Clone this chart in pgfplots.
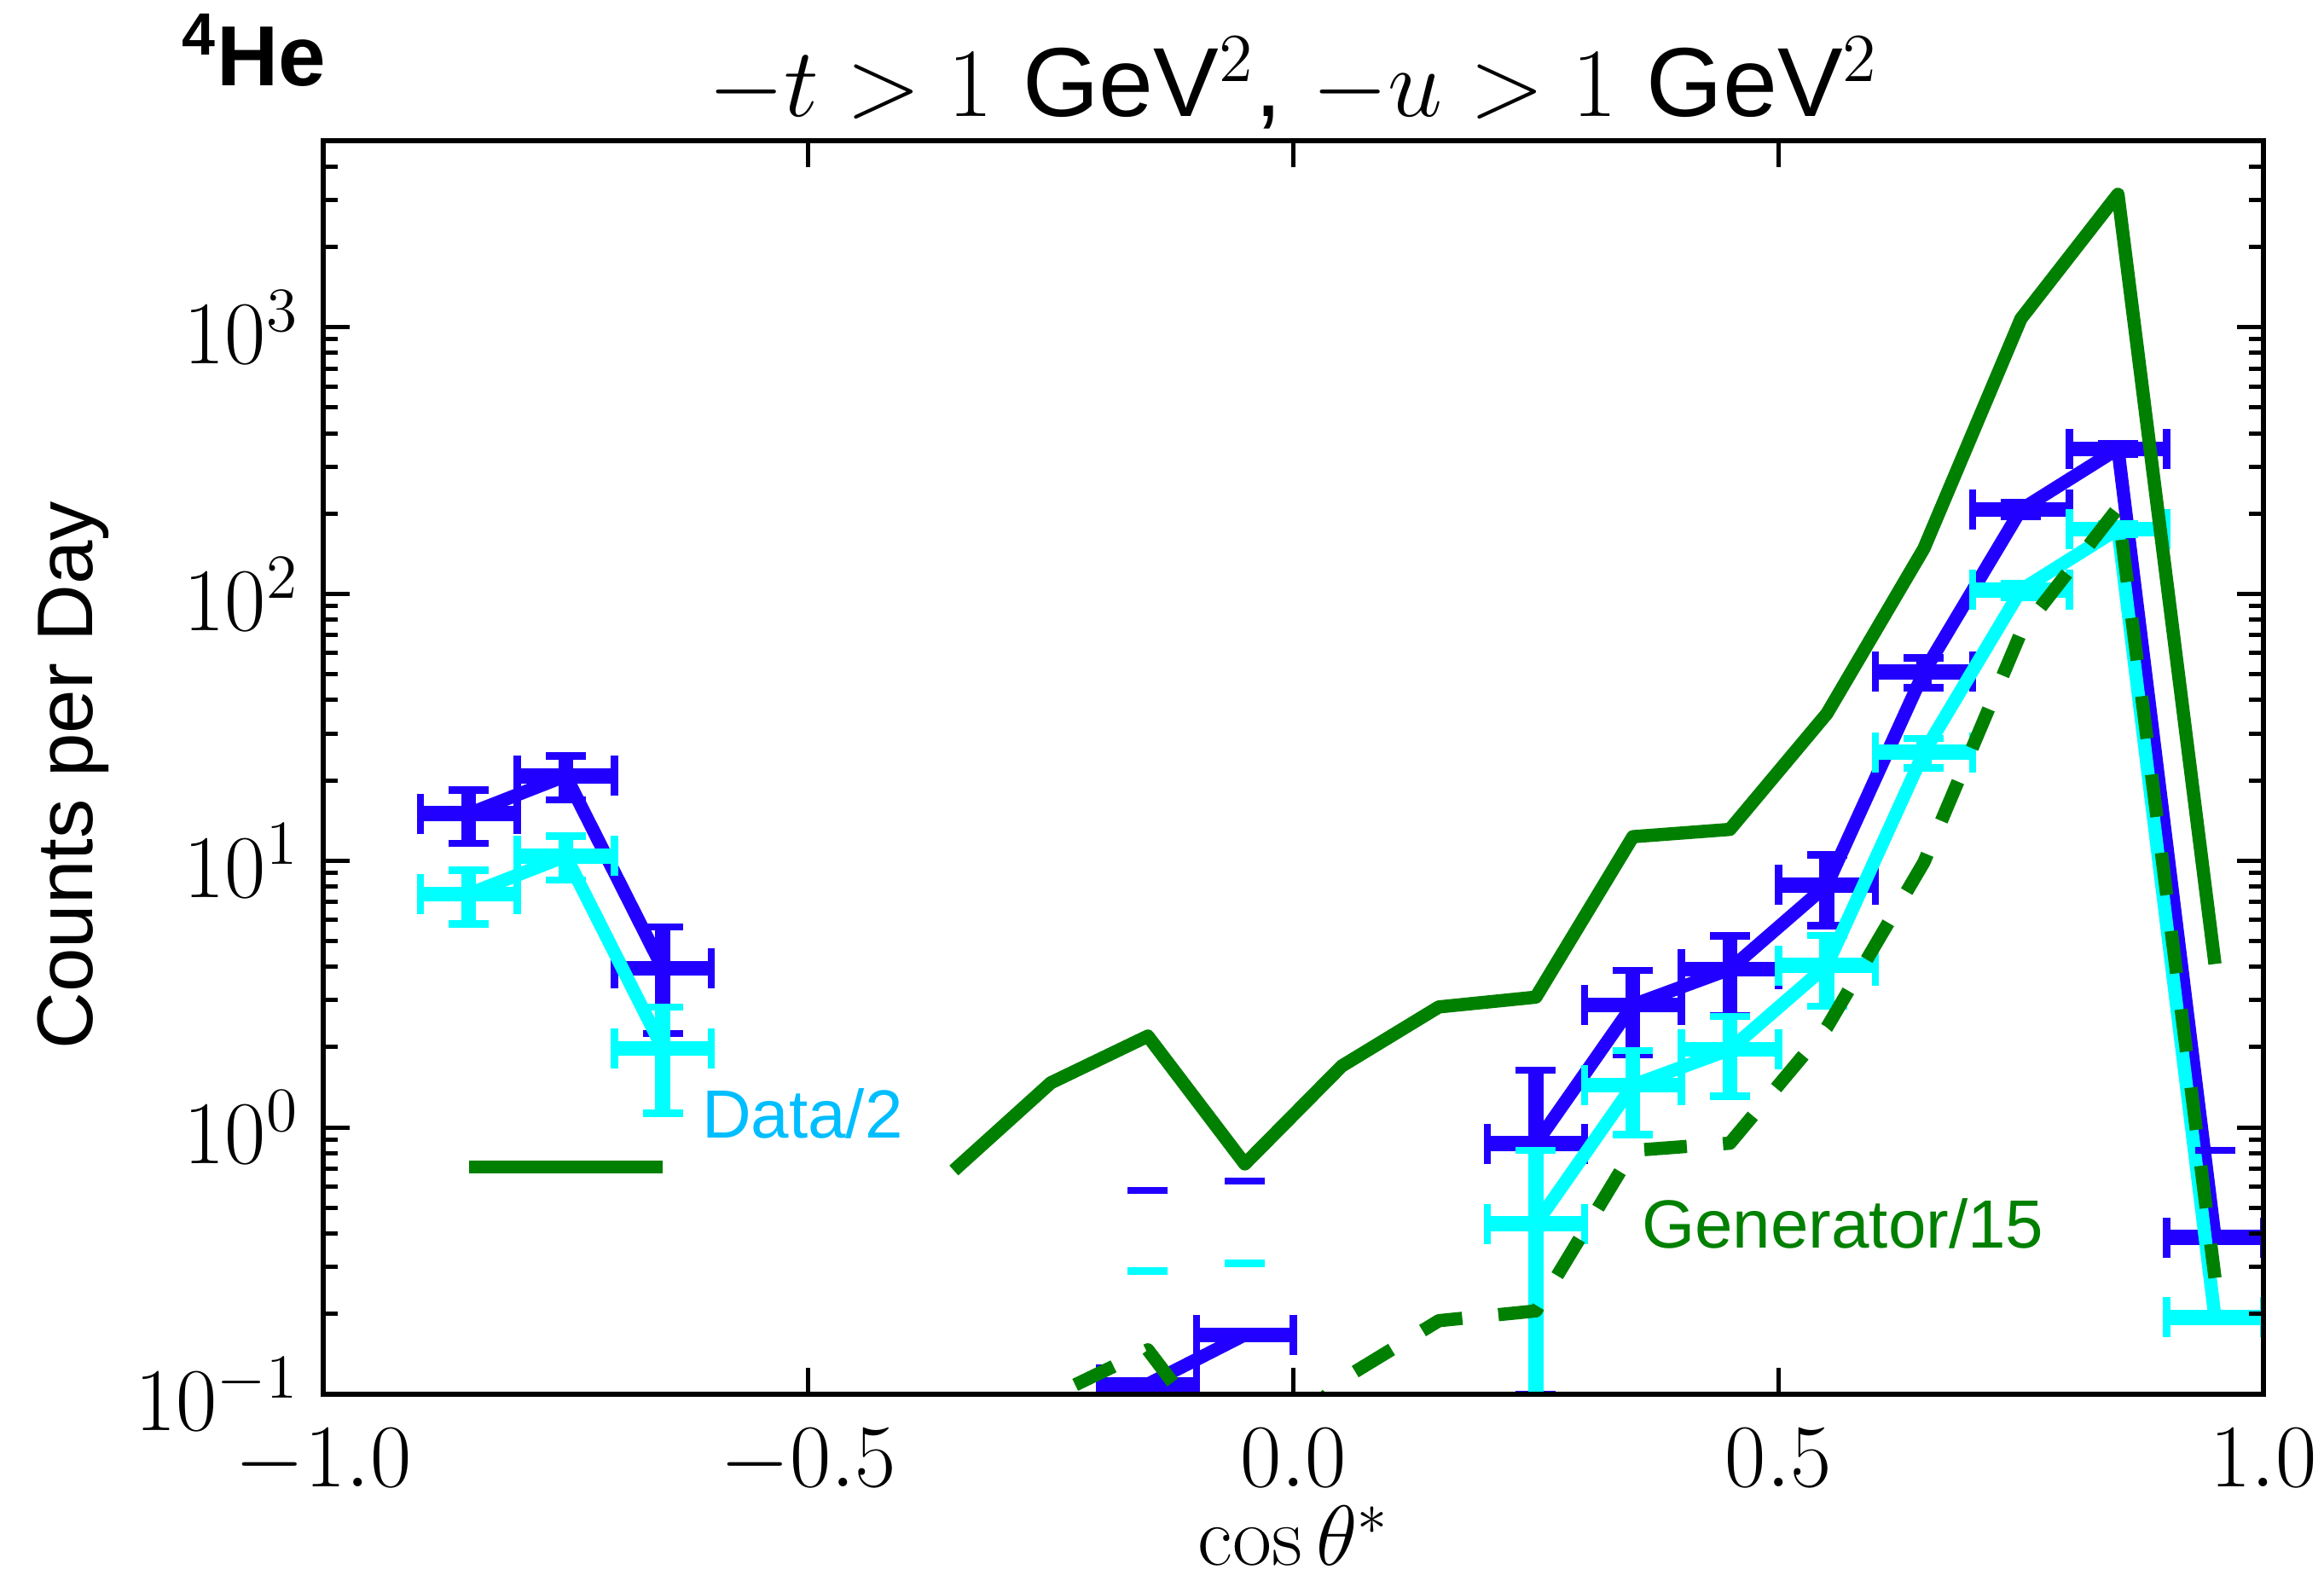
\RequirePackage{fix-cm}
\documentclass[border=0pt]{standalone}
\usepackage{fontspec}
\newfontfamily\lsans{Liberation Sans}
\usepackage{pgfplots}
\pgfplotsset{compat=1.18}
\definecolor{mblue}{RGB}{34,0,255}
\definecolor{mcyan}{RGB}{0,255,255}
\definecolor{mgreen}{RGB}{0,128,0}
\definecolor{lcyan}{RGB}{0,190,255}
\pgfplotsset{
  databar/.style={line width=3.1pt, line join=round, mark=none,
    error bars/.cd, x dir=both, x explicit, y dir=both, y explicit,
    error bar style={line width=3.5pt},
    error mark options={rotate=90, line width=1.7pt, mark size=4.7pt}},
  capmark/.style={only marks, mark=-, mark size=4.7pt, mark options={line width=1.7pt}},
  gen/.style={mgreen, line width=3.1pt, line join=round, mark=none},
  gendash/.style={mgreen, line width=3.1pt, line join=round, mark=none, dash pattern=on 10pt off 8.5pt},
}
\begin{document}
\begin{tikzpicture}
\useasboundingbox (0,0) rectangle (545pt,370.8pt);
\begin{axis}[
  at={(75.8pt,43.8pt)}, anchor=south west,
  scale only axis, width=455pt, height=294pt,
  xmin=-1, xmax=1, ymode=log, ymin=0.1, ymax=5000,
  xtick={-1,-0.5,0,0.5,1},
  xticklabels={$-1.0$,$-0.5$,$0.0$,$0.5$,$1.0$},
  ytick={0.1,1,10,100,1000},
  yticklabels={$10^{-1}$,$10^{0}$,$10^{1}$,$10^{2}$,$10^{3}$},
  minor ytick={0.2,0.3,0.4,0.5,0.6,0.7,0.8,0.9,2,3,4,5,6,7,8,9,20,30,40,50,60,70,80,90,200,300,400,500,600,700,800,900,2000,3000,4000,5000},
  tick align=inside, xtick pos=both, ytick pos=both,
  xticklabel pos=lower, yticklabel pos=left,
  major tick length=6.2pt, minor tick length=3.4pt,
  every tick/.append style={black, line width=1pt},
  axis line style={line width=1.2pt},
  axis on top=true,
  tick label style={font=\fontsize{21}{25}\selectfont},
  xticklabel style={inner sep=0pt, anchor=north, yshift=-8pt},
  yticklabel style={inner sep=0pt, anchor=east, xshift=-5.5pt},
]
% Data (blue)
\addplot[mblue, databar] coordinates {(-0.85,15) +- (0.05,3.4) (-0.75,20.8) +- (0.05,3.9) (-0.65,3.95) +- (0.05,1.7)};
\addplot[mblue, databar] coordinates {(-0.15,0.109) +- (0.05,0) (-0.05,0.167) +- (0.05,0)};
\addplot[mblue, databar] coordinates {(0.25,0.87) +- (0.05,0.77) (0.35,2.88) +- (0.05,1.0) (0.45,3.92) +- (0.05,1.3) (0.55,8.1) +- (0.05,2.4) (0.65,51) +- (0.05,6.5) (0.75,207) +- (0.05,12.5) (0.85,350) +- (0.05,16) (0.95,0.387) +- (0.05,0)};
\addplot[mblue, capmark] coordinates {(-0.15,0.58) (-0.05,0.63) (0.95,0.82)};
% Data/2 (cyan)
\addplot[mcyan, databar] coordinates {(-0.85,7.5) +- (0.05,1.7) (-0.75,10.4) +- (0.05,1.95) (-0.65,1.98) +- (0.05,0.85)};
\addplot[mcyan, databar] coordinates {(-0.15,0.0545) +- (0.05,0) (-0.05,0.0835) +- (0.05,0)};
\addplot[mcyan, databar] coordinates {(0.25,0.435) +- (0.05,0.385) (0.35,1.44) +- (0.05,0.5) (0.45,1.96) +- (0.05,0.65) (0.55,4.05) +- (0.05,1.2) (0.65,25.5) +- (0.05,3.25) (0.75,103.5) +- (0.05,6.3) (0.85,175) +- (0.05,8) (0.95,0.194) +- (0.05,0)};
\addplot[mcyan, capmark] coordinates {(-0.15,0.29) (-0.05,0.31)};
% Generator
\addplot[gen] coordinates {(-0.85,0.71) (-0.75,0.71) (-0.65,0.71)};
\addplot[gen] coordinates {(-0.35,0.69) (-0.25,1.47) (-0.15,2.2) (-0.05,0.73) (0.05,1.7) (0.15,2.83) (0.25,3.08) (0.35,12.3) (0.45,13.1) (0.55,35.6) (0.65,148) (0.75,1075) (0.85,3150) (0.95,4.1)};
% Generator/15
\addplot[gendash] coordinates {(-0.85,0.0473) (-0.75,0.0473) (-0.65,0.0473)};
\addplot[gendash] coordinates {(-0.35,0.046) (-0.25,0.098) (-0.15,0.1467) (-0.05,0.0487) (0.05,0.1133) (0.15,0.1887) (0.25,0.2053) (0.35,0.82) (0.45,0.873) (0.55,2.373) (0.65,9.87) (0.75,71.7) (0.85,210) (0.95,0.273)};
\end{axis}
\node[anchor=base, inner sep=0pt] at (303.3pt,343.4pt) {\fontsize{23}{27}\selectfont $-t > 1$ {\lsans GeV}$^2${\lsans ,} $-u > 1$ {\lsans GeV}$^2$};
\node[anchor=base, inner sep=0pt] at (303.4pt,3.6pt) {\fontsize{20}{24}\selectfont $\cos\theta^{*}$};
\node[rotate=90, anchor=base, inner sep=0pt] at (21.6pt,189pt) {\lsans\fontsize{18.5}{22}\selectfont Counts per Day};
\node[anchor=base west, inner sep=0pt] at (42.4pt,350.6pt) {\lsans\bfseries\fontsize{20}{24}\selectfont\textsuperscript{4}He};
\node[anchor=base west, inner sep=0pt, text=lcyan] at (164.4pt,103.8pt) {\lsans\fontsize{16}{19}\selectfont Data/2};
\node[anchor=base west, inner sep=0pt, text=mgreen] at (384.8pt,78.1pt) {\lsans\fontsize{16}{19}\selectfont Generator/15};
\end{tikzpicture}
\end{document}
